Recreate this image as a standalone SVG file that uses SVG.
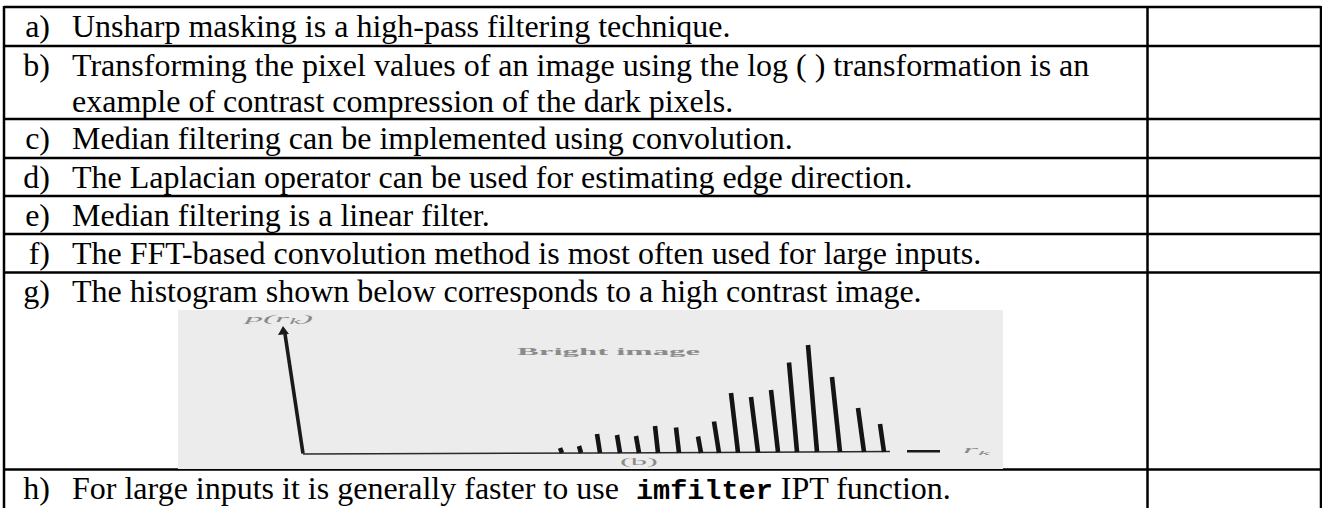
<svg xmlns="http://www.w3.org/2000/svg" width="1322" height="508" viewBox="0 0 1322 508">
<style>
.t{font-family:"Liberation Serif","Times New Roman",serif;font-size:32px;fill:#000}
.lb{font-family:"Liberation Serif","Times New Roman",serif;font-size:32px;fill:#000;text-anchor:end}
.code{font-family:"Liberation Mono","Courier New",monospace;font-weight:bold;font-size:28.5px}
.grid{stroke:#000;stroke-width:2.5;fill:none}
.bar{stroke:#141414;stroke-width:4.6;stroke-linecap:butt}
.faint{font-family:"Liberation Serif",serif;fill:#8a8a8a}
</style>
<rect x="0" y="0" width="1322" height="508" fill="#fff"/>
<g id="table-lines" class="grid">
<line x1="4" y1="7" x2="1321" y2="7"/>
<line x1="4" y1="46" x2="1321" y2="46"/>
<line x1="4" y1="119" x2="1321" y2="119"/>
<line x1="4" y1="158" x2="1321" y2="158"/>
<line x1="4" y1="196" x2="1321" y2="196"/>
<line x1="4" y1="234" x2="1321" y2="234"/>
<line x1="4" y1="272.5" x2="1321" y2="272.5"/>
<line x1="4" y1="469.5" x2="1321" y2="469.5"/>
<line x1="4" y1="6" x2="4" y2="508"/>
<line x1="1147.5" y1="6" x2="1147.5" y2="508"/>
<line x1="1321" y1="6" x2="1321" y2="508"/>
</g>
<g id="row-a"><text class="lb" x="50" y="37">a)</text><text class="t" x="72" y="37">Unsharp masking is a high-pass filtering technique.</text></g>
<g id="row-b"><text class="lb" x="50" y="75.5">b)</text><text class="t" x="72" y="75.5">Transforming the pixel values of an image using the log ( ) transformation is an</text><text class="t" x="72" y="111.5">example of contrast compression of the dark pixels.</text></g>
<g id="row-c"><text class="lb" x="50" y="149">c)</text><text class="t" x="72" y="149">Median filtering can be implemented using convolution.</text></g>
<g id="row-d"><text class="lb" x="50" y="187.5">d)</text><text class="t" x="72" y="187.5">The Laplacian operator can be used for estimating edge direction.</text></g>
<g id="row-e"><text class="lb" x="50" y="225.5">e)</text><text class="t" x="72" y="225.5">Median filtering is a linear filter.</text></g>
<g id="row-f"><text class="lb" x="50" y="263.5">f)</text><text class="t" x="72" y="263.5">The FFT-based convolution method is most often used for large inputs.</text></g>
<g id="row-g"><text class="lb" x="50" y="302">g)</text><text class="t" x="72" y="302">The histogram shown below corresponds to a high contrast image.</text></g>
<g id="histogram">
<rect x="178" y="310" width="825" height="159" fill="#ececec"/>
<text class="faint" x="245" y="322" font-size="11" font-style="italic" textLength="68" lengthAdjust="spacingAndGlyphs">p(r<tspan font-size="8" dy="2">k</tspan><tspan dy="-2">)</tspan></text>
<text class="faint" x="517" y="355" font-size="11" font-weight="bold" textLength="183" lengthAdjust="spacingAndGlyphs">Bright image</text>
<text class="faint" x="620" y="465" font-size="10" textLength="38" lengthAdjust="spacingAndGlyphs">(b)</text>
<text class="faint" x="963" y="453" font-size="10" font-style="italic" textLength="27" lengthAdjust="spacingAndGlyphs">r<tspan font-size="7" dy="2">k</tspan></text>
<line x1="303" y1="453.5" x2="285" y2="334" stroke="#1a1a1a" stroke-width="3.6"/>
<polygon points="283,326 289,334 278,335" fill="#1a1a1a"/>
<polyline points="303,454 600,453 890,451.5" fill="none" stroke="#2a2a2a" stroke-width="1.5"/>
<line x1="907" y1="451.3" x2="940" y2="451.3" stroke="#1a1a1a" stroke-width="2.5"/>
<g id="bars">
<line class="bar" x1="560" y1="448" x2="562" y2="453"/>
<line class="bar" x1="579" y1="446" x2="581" y2="453"/>
<line class="bar" x1="597" y1="434" x2="600" y2="453"/>
<line class="bar" x1="617" y1="435" x2="620" y2="453"/>
<line class="bar" x1="636" y1="436" x2="639" y2="453"/>
<line class="bar" x1="655" y1="426" x2="658" y2="453"/>
<line class="bar" x1="676" y1="427.5" x2="679" y2="453"/>
<line class="bar" x1="698" y1="436.5" x2="701" y2="453"/>
<line class="bar" x1="714" y1="421.5" x2="719" y2="453"/>
<line class="bar" x1="731" y1="393" x2="738" y2="452.5"/>
<line class="bar" x1="751" y1="397" x2="758" y2="452.5"/>
<line class="bar" x1="771" y1="390" x2="778" y2="452"/>
<line class="bar" x1="789" y1="362.5" x2="797" y2="452"/>
<line class="bar" x1="808" y1="345" x2="817" y2="452"/>
<line class="bar" x1="832" y1="377" x2="840" y2="452"/>
<line class="bar" x1="858" y1="408" x2="864" y2="452"/>
<line class="bar" x1="880" y1="424" x2="884" y2="452"/>
</g>
</g>
<g id="row-h"><text class="lb" x="50" y="499">h)</text><text class="t" x="72" y="499">For large inputs it is generally faster to use<tspan class="code"> imfilter</tspan> IPT function.</text></g>
</svg>
